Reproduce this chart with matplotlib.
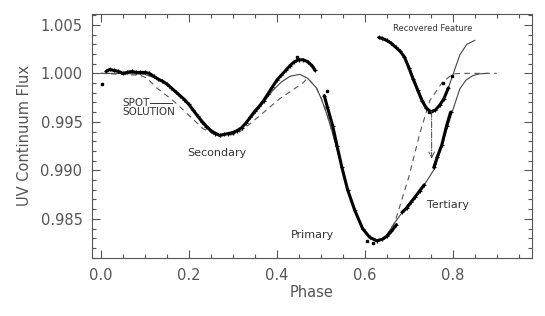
import matplotlib.pyplot as plt
from matplotlib.ticker import MultipleLocator

# observed points (secondary + bump)
obs_sec_phase = [0.012, 0.02, 0.03, 0.04, 0.05, 0.06, 0.07, 0.08, 0.09, 0.10, 0.11, 0.12, 0.13,
                 0.14, 0.15, 0.16, 0.17, 0.18, 0.19, 0.20, 0.21, 0.22, 0.23, 0.24, 0.25, 0.26,
                 0.27, 0.28, 0.29, 0.30, 0.31, 0.32, 0.33, 0.34, 0.35, 0.36, 0.37, 0.38, 0.39,
                 0.40, 0.41, 0.42, 0.43, 0.44, 0.45, 0.46, 0.47, 0.48, 0.487]
obs_sec_flux = [1.0002, 1.0004, 1.0003, 1.0002, 1.0000, 1.0001, 1.0002, 1.0001, 1.0001, 1.0001,
                1.0000, 0.9997, 0.9994, 0.9992, 0.9989, 0.9985, 0.9981, 0.9977, 0.9973, 0.9968,
                0.9962, 0.9956, 0.9950, 0.9945, 0.9941, 0.9938, 0.9936, 0.9937, 0.9938, 0.9939,
                0.9941, 0.9944, 0.9949, 0.9955, 0.9961, 0.9966, 0.9972, 0.9979, 0.9986, 0.9993,
                0.9998, 1.0003, 1.0008, 1.0012, 1.0014, 1.0014, 1.0012, 1.0008, 1.0003]

# observed points (primary eclipse)
obs_pri_phase = [0.508, 0.515, 0.527, 0.537, 0.548, 0.561, 0.577, 0.595, 0.611, 0.627,
                 0.640, 0.650, 0.660, 0.672]
obs_pri_flux = [0.9977, 0.9965, 0.9946, 0.9925, 0.9903, 0.9880, 0.9859, 0.9840, 0.9831,
                0.98275, 0.9829, 0.9832, 0.9837, 0.9844]

# observed points (tertiary), two runs
obs_ter1_phase = [0.685, 0.695, 0.705, 0.715, 0.725, 0.735]
obs_ter1_flux = [0.9857, 0.9861, 0.9867, 0.9873, 0.9879, 0.9885]
obs_ter2_phase = [0.757, 0.765, 0.775, 0.786, 0.795]
obs_ter2_flux = [0.9903, 0.9914, 0.9926, 0.9946, 0.9960]

# recovered feature points
obs_rec_phase = [0.632, 0.64, 0.65, 0.66, 0.67, 0.68, 0.69, 0.70, 0.71, 0.72, 0.73, 0.74,
                 0.75, 0.76, 0.77, 0.78, 0.79]
obs_rec_flux = [1.0037, 1.0036, 1.0034, 1.0031, 1.0027, 1.0023, 1.0017, 1.0006, 0.9994,
                0.9983, 0.9972, 0.9964, 0.99605, 0.9962, 0.9967, 0.9974, 0.9985]

# stray points
stray_phase = [0.003, 0.445, 0.515, 0.605, 0.618, 0.745, 0.778, 0.798]
stray_flux = [0.9989, 1.0017, 0.9982, 0.9827, 0.9825, 0.9960, 0.9990, 0.9997]

# model light curve (solid)
model_phase = [0.00, 0.05, 0.10, 0.13, 0.16, 0.19, 0.22, 0.25, 0.27, 0.29, 0.31, 0.33, 0.35,
               0.37, 0.39, 0.41, 0.43, 0.452, 0.47, 0.49, 0.502, 0.515, 0.527, 0.548, 0.561,
               0.577, 0.595, 0.611, 0.627, 0.645, 0.668, 0.70, 0.732, 0.759, 0.775, 0.789,
               0.80, 0.816, 0.83, 0.845, 0.86, 0.88]
model_flux = [1.0000, 1.0000, 0.9999, 0.9994, 0.9985, 0.9973, 0.9957, 0.9942, 0.9937, 0.9937,
              0.9940, 0.9948, 0.9959, 0.9970, 0.9982, 0.9991, 0.9997, 0.9999, 0.9995, 0.9985,
              0.9973, 0.9956, 0.9938, 0.9903, 0.9880, 0.9859, 0.9840, 0.9831, 0.98265, 0.9830,
              0.9846, 0.9866, 0.98826, 0.9902, 0.9925, 0.9946, 0.9962, 0.9984, 0.9993, 0.99975,
              0.99995, 1.0000]

# recovered feature model (solid)
rec_phase = [0.635, 0.66, 0.68, 0.70, 0.72, 0.735, 0.748, 0.76, 0.77, 0.786, 0.80, 0.816,
             0.832, 0.85]
rec_flux = [1.0036, 1.0031, 1.0024, 1.0008, 0.9985, 0.9969, 0.99615, 0.9962, 0.9967, 0.9980,
            0.9998, 1.0019, 1.0030, 1.0034]

# spot solution (dashed)
spot_phase = [0.0, 0.09, 0.105, 0.127, 0.164, 0.202, 0.232, 0.26, 0.29, 0.31, 0.339, 0.368,
              0.407, 0.459, 0.47, 0.49, 0.502, 0.515, 0.527, 0.548, 0.561, 0.577, 0.595, 0.611,
              0.627, 0.645, 0.668, 0.70, 0.725, 0.748, 0.775, 0.80, 0.823, 0.90]
spot_flux = [1.0000, 0.9998, 0.9995, 0.9985, 0.9972, 0.9956, 0.9943, 0.9937, 0.9936, 0.9938,
             0.9948, 0.9959, 0.9974, 0.9990, 0.9995, 0.9985, 0.9973, 0.9956, 0.9938, 0.9903,
             0.9880, 0.9859, 0.9840, 0.9831, 0.98265, 0.9830, 0.9846, 0.9893, 0.9938, 0.9972,
             0.9990, 0.99995, 1.0000, 1.0000]

grey = '#555555'
plt.rcParams['font.family'] = 'DejaVu Sans'

fig = plt.figure(figsize=(5.45, 3.16), dpi=100)
ax = fig.add_axes([0.169, 0.184, 0.807, 0.772])

ax.plot(model_phase, model_flux, color='#444444', lw=0.8)
ax.plot(rec_phase, rec_flux, color='#444444', lw=0.8)
ax.plot(spot_phase, spot_flux, color='#555555', lw=0.8, dashes=(5, 4))

for ph, fl in [(obs_sec_phase, obs_sec_flux), (obs_pri_phase, obs_pri_flux),
               (obs_ter1_phase, obs_ter1_flux), (obs_ter2_phase, obs_ter2_flux),
               (obs_rec_phase, obs_rec_flux)]:
    ax.plot(ph, fl, color='black', lw=2.2, marker='+', ms=3, mew=0.8, solid_capstyle='round')
ax.plot(stray_phase, stray_flux, 's', color='black', ms=1.5)

# recovered-feature arrow
ax.annotate('', xy=(0.752, 0.9912), xytext=(0.752, 0.9961),
            arrowprops=dict(arrowstyle='->', color='#444444', lw=0.7, linestyle='-.',
                            shrinkA=0, shrinkB=0))

# labels in the plot
tc = '#333333'
ax.text(0.048, 0.99697, 'SPOT', fontsize=7.5, color=tc, ha='left', va='center')
ax.text(0.048, 0.99597, 'SOLUTION', fontsize=7.5, color=tc, ha='left', va='center')
ax.plot([0.111, 0.161], [0.99697, 0.99697], color=tc, lw=0.7)
ax.text(0.264, 0.9918, 'Secondary', fontsize=8, color=tc, ha='center', va='center')
ax.text(0.482, 0.9833, 'Primary', fontsize=8, color=tc, ha='center', va='center')
ax.text(0.789, 0.9864, 'Tertiary', fontsize=8, color=tc, ha='center', va='center')
ax.text(0.755, 1.00467, 'Recovered Feature', fontsize=6, color=tc, ha='center', va='center')

ax.set_xlim(-0.02, 0.98)
ax.set_ylim(0.98098, 1.00613)
ax.xaxis.set_major_locator(MultipleLocator(0.2))
ax.xaxis.set_minor_locator(MultipleLocator(0.05))
ax.yaxis.set_major_locator(MultipleLocator(0.005))
ax.yaxis.set_minor_locator(MultipleLocator(0.001))
ax.set_xticks([0.0, 0.2, 0.4, 0.6, 0.8])
ax.tick_params(which='both', direction='in', top=True, right=True, color=grey,
               labelcolor=grey, labelsize=10.5, width=0.8)
ax.tick_params(which='major', length=6, pad=7)
ax.tick_params(which='minor', length=3)
ax.yaxis.set_major_formatter(plt.FormatStrFormatter('%.3f'))
ax.xaxis.set_major_formatter(plt.FormatStrFormatter('%.1f'))
for s in ax.spines.values():
    s.set_color(grey)
    s.set_linewidth(0.8)

ax.set_xlabel('Phase', fontsize=10.5, color=grey, labelpad=2)
ax.set_ylabel('UV Continuum Flux', fontsize=10.5, color=grey, labelpad=6)

fig.savefig('out.png', dpi=100)
